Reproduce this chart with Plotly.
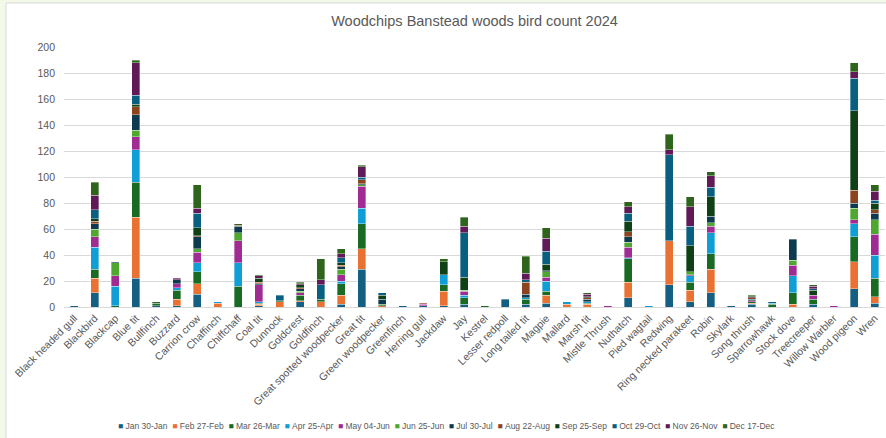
import plotly.graph_objects as go

birds = ["Black headed gull", "Blackbird", "Blackcap", "Blue tit", "Bullfinch", "Buzzard",
         "Carrion crow", "Chaffinch", "Chiffchaff", "Coal tit", "Dunnock", "Goldcrest",
         "Goldfinch", "Great spotted woodpecker", "Great tit", "Green woodpecker", "Greenfinch",
         "Herring gull", "Jackdaw", "Jay", "Kestrel", "Lesser redpoll", "Long tailed tit",
         "Magpie", "Mallard", "Marsh tit", "Mistle Thrush", "Nuthatch", "Pied wagtail",
         "Redwing", "Ring necked parakeet", "Robin", "Skylark", "Song thrush", "Sparrowhawk",
         "Stock dove", "Treecreeper", "Willow Warbler", "Wood pigeon", "Wren"]

jan = [1, 11, 0, 22, 1, 1, 10, 0, 0, 1, 0, 4, 0, 2, 29, 0, 1, 1, 1, 2, 0, 6, 2, 3, 0, 0, 0, 7, 0, 17, 4, 11, 1, 2, 0, 0, 2, 0, 14, 3]
feb = [0, 11, 0, 47, 0, 5, 8, 3, 0, 1, 4, 1, 4, 7, 16, 1, 0, 0, 11, 0, 0, 0, 0, 6, 2, 2, 0, 12, 0, 34, 9, 18, 0, 1, 0, 2, 0, 0, 21, 5]
mar = [0, 7, 1, 27, 2, 7, 9, 0, 16, 1, 1, 4, 2, 9, 19, 1, 0, 0, 5, 5, 1, 0, 4, 3, 0, 1, 0, 18, 0, 0, 6, 12, 0, 1, 2, 9, 4, 0, 19, 14]
apr = [0, 17, 15, 25, 0, 2, 7, 1, 18, 1, 0, 0, 0, 2, 12, 0, 0, 0, 8, 2, 0, 0, 1, 8, 2, 1, 0, 1, 1, 0, 5, 16, 0, 0, 1, 13, 0, 0, 10, 18]
may = [0, 8, 8, 10, 0, 3, 8, 0, 17, 13, 0, 2, 0, 5, 17, 0, 0, 1, 0, 3, 0, 0, 0, 3, 0, 0, 1, 8, 0, 0, 1, 5, 0, 1, 0, 8, 3, 1, 3, 16]
jun = [0, 6, 10, 5, 0, 0, 3, 0, 6, 0, 0, 1, 0, 4, 1, 0, 0, 0, 0, 1, 0, 0, 0, 4, 0, 0, 0, 4, 0, 0, 2, 3, 0, 0, 0, 4, 0, 0, 9, 11]
jul = [0, 4, 1, 12, 0, 3, 9, 0, 5, 1, 0, 2, 0, 2, 1, 4, 0, 0, 0, 0, 0, 0, 3, 1, 0, 2, 0, 4, 0, 0, 0, 5, 0, 1, 0, 16, 0, 0, 4, 5]
aug = [0, 2, 0, 6, 0, 0, 1, 0, 1, 1, 0, 1, 0, 1, 3, 0, 0, 1, 0, 0, 0, 0, 9, 0, 0, 1, 0, 4, 0, 0, 0, 0, 0, 1, 0, 0, 0, 0, 10, 3]
sep = [0, 2, 0, 2, 0, 0, 6, 0, 0, 3, 0, 2, 0, 2, 0, 3, 0, 0, 10, 10, 0, 0, 0, 5, 0, 1, 0, 8, 0, 0, 20, 15, 0, 0, 0, 0, 4, 0, 61, 5]
oct_ = [0, 7, 0, 7, 0, 0, 11, 0, 0, 0, 4, 0, 11, 4, 2, 2, 0, 0, 0, 34, 0, 0, 2, 10, 0, 0, 0, 6, 0, 66, 15, 7, 0, 0, 1, 0, 1, 0, 25, 2]
nov = [0, 11, 0, 25, 0, 1, 4, 0, 0, 2, 0, 1, 4, 3, 8, 0, 0, 0, 0, 5, 0, 0, 5, 10, 0, 2, 0, 5, 0, 4, 15, 9, 0, 1, 0, 0, 2, 0, 5, 7]
dec = [0, 10, 0, 2, 1, 0, 18, 0, 1, 1, 0, 1, 16, 4, 1, 0, 0, 0, 2, 7, 0, 0, 13, 8, 0, 1, 0, 4, 0, 12, 8, 3, 0, 1, 0, 0, 1, 0, 7, 5]

series_names = ["Jan 30-Jan", "Feb 27-Feb", "Mar 26-Mar", "Apr 25-Apr", "May 04-Jun", "Jun 25-Jun",
                "Jul 30-Jul", "Aug 22-Aug", "Sep 25-Sep", "Oct 29-Oct", "Nov 26-Nov", "Dec 17-Dec"]
series_values = [jan, feb, mar, apr, may, jun, jul, aug, sep, oct_, nov, dec]
colors = ["#156082", "#E97132", "#196B24", "#0F9ED5", "#A02B93", "#4EA72E",
          "#0D3A4E", "#8C441E", "#0F4016", "#095F80", "#601A58", "#2F641C"]

title_text = "Woodchips Banstead woods bird count 2024"
y_ticks = [0, 20, 40, 60, 80, 100, 120, 140, 160, 180, 200]

GREY = "#595959"
FONT = "Liberation Sans, Arial, sans-serif"

fig = go.Figure()
for name, vals, col in zip(series_names, series_values, colors):
    fig.add_trace(go.Bar(
        x=birds, y=[v if v else None for v in vals], name=name,
        marker=dict(color=col, line=dict(color="rgba(255,255,255,0.7)", width=0.5)),
        showlegend=False,
    ))

# legend as one line of real text with coloured squares
legend_html = "&nbsp;&nbsp;".join(
    f"<span style='color:{c}'>■</span>&nbsp;{n}" for n, c in zip(series_names, colors)
)

W, H = 886, 438
ml, mr, mt, mb = 64, 1, 47, 131
pw, ph = W - ml - mr, H - mt - mb

def px(xp):
    return (xp - ml) / pw

def py(yp):
    return (H - mb - yp) / ph

fig.update_layout(
    width=W, height=H,
    barmode="stack", bargap=0.61,
    margin=dict(l=ml, r=mr, t=mt, b=mb, pad=0),
    paper_bgcolor="#F3F9E9", plot_bgcolor="white",
    font=dict(family=FONT, color=GREY, size=11),
    title=dict(text=title_text, x=0.5, xref="paper", xanchor="center",
               y=1 - 21 / H, yanchor="middle",
               font=dict(size=14.5, color=GREY, family=FONT)),
    xaxis=dict(tickangle=-45, showgrid=False, showline=True, linecolor="#D9D9D9",
               linewidth=1, ticks="", tickfont=dict(size=10.5, color=GREY)),
    yaxis=dict(range=[0, 200], tickvals=y_ticks, showgrid=True, gridcolor="#D9D9D9",
               gridwidth=1, zeroline=False, showline=False, ticks="",
               ticklabelstandoff=8, tickfont=dict(size=10.5, color=GREY)),
    shapes=[dict(type="rect", xref="paper", yref="paper",
                 x0=px(6), x1=px(892), y0=py(445), y1=py(3),
                 fillcolor="white", line=dict(color="#D9D9D9", width=1), layer="below")],
    annotations=[dict(text=legend_html, xref="paper", yref="paper",
                      x=px(446), y=py(426), xanchor="center", yanchor="middle",
                      showarrow=False,
                      font=dict(size=8.5, color=GREY,
                                family="Liberation Sans Narrow, Arial Narrow, Liberation Sans, sans-serif"))],
)

fig.write_html("out.html")
